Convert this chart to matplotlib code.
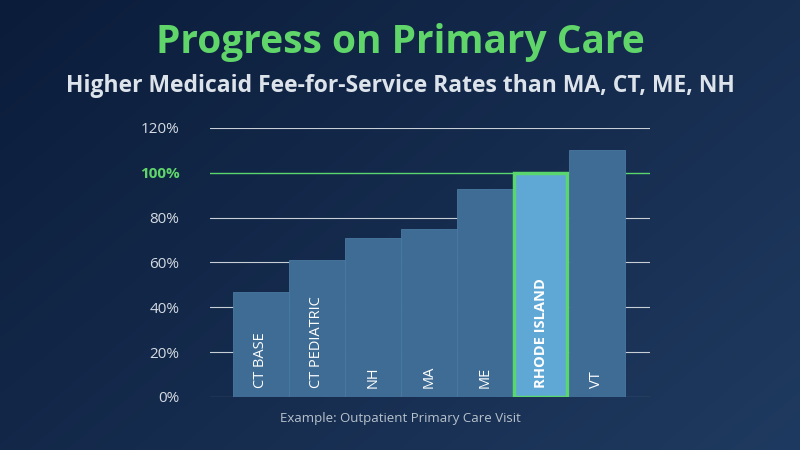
import numpy as np
import matplotlib.pyplot as plt

categories = ['CT BASE', 'CT PEDIATRIC', 'NH', 'MA', 'ME', 'RHODE ISLAND', 'VT']
rates = [47, 61, 71, 75, 93, 100, 110]
highlight = 'RHODE ISLAND'
yticks = [0, 20, 40, 60, 80, 100, 120]

fig = plt.figure(figsize=(8, 4.5), dpi=100)

# background gradient
bg = fig.add_axes([0, 0, 1, 1])
gx, gy = np.meshgrid(np.linspace(0, 1, 200), np.linspace(0, 1, 200))
t = (gx * 0.6 + (1 - gy) * 0.4)
c0 = np.array([0x0b, 0x1c, 0x3a]) / 255
c1 = np.array([0x1f, 0x3a, 0x60]) / 255
img = c0 + (c1 - c0) * t[..., None]
bg.imshow(img, extent=[0, 1, 0, 1], aspect='auto', origin='lower')
bg.axis('off')

fig.text(0.5, 0.905, 'Progress on Primary Care', ha='center', va='center',
         color='#5fd56a', fontsize=28, fontweight='bold', family='Open Sans')
fig.text(0.5, 0.81, 'Higher Medicaid Fee-for-Service Rates than MA, CT, ME, NH',
         ha='center', va='center', color='#dde3ea', fontsize=16.5,
         fontweight='bold', family='Open Sans')

ax = fig.add_axes([0.2625, 0.1178, 0.55, 0.5978])
ax.patch.set_alpha(0)
for i, (cat, v) in enumerate(zip(categories, rates)):
    if cat == highlight:
        ax.bar(i, v, width=0.95, color='#5fa8d6', edgecolor='#5ad66f',
               linewidth=2.5, zorder=3)
    else:
        ax.bar(i, v, width=1.0, color='#3e6c94', edgecolor='#4a79a1',
               linewidth=0.6, zorder=3)
    ax.text(i, 4, cat, rotation=90, ha='center', va='bottom', color='white',
            fontsize=10.5, family='Open Sans', zorder=4,
            fontweight='bold' if cat == highlight else 'normal')

ax.set_xlim(-0.91, 6.95)
ax.set_ylim(0, 120)
for y in yticks:
    if y == 100:
        ax.axhline(y, color='#5ad66f', lw=1, zorder=2)
    else:
        ax.axhline(y, color='#c8ced6', lw=0.8, zorder=2)
ax.set_yticks(yticks)
ax.set_yticklabels([f'{y}%' for y in yticks], family='Open Sans', fontsize=11)
for lbl, y in zip(ax.get_yticklabels(), yticks):
    if y == 100:
        lbl.set_color('#5fd56a'); lbl.set_fontweight('bold')
    else:
        lbl.set_color('#d5dbe2')
ax.tick_params(length=0, pad=22)
ax.set_xticks([])
for s in ax.spines.values():
    s.set_visible(False)

fig.text(0.5, 0.07, 'Example: Outpatient Primary Care Visit', ha='center',
         va='center', color='#b8c2cc', fontsize=9.5, family='Open Sans')

fig.savefig('out.png', dpi=100)
